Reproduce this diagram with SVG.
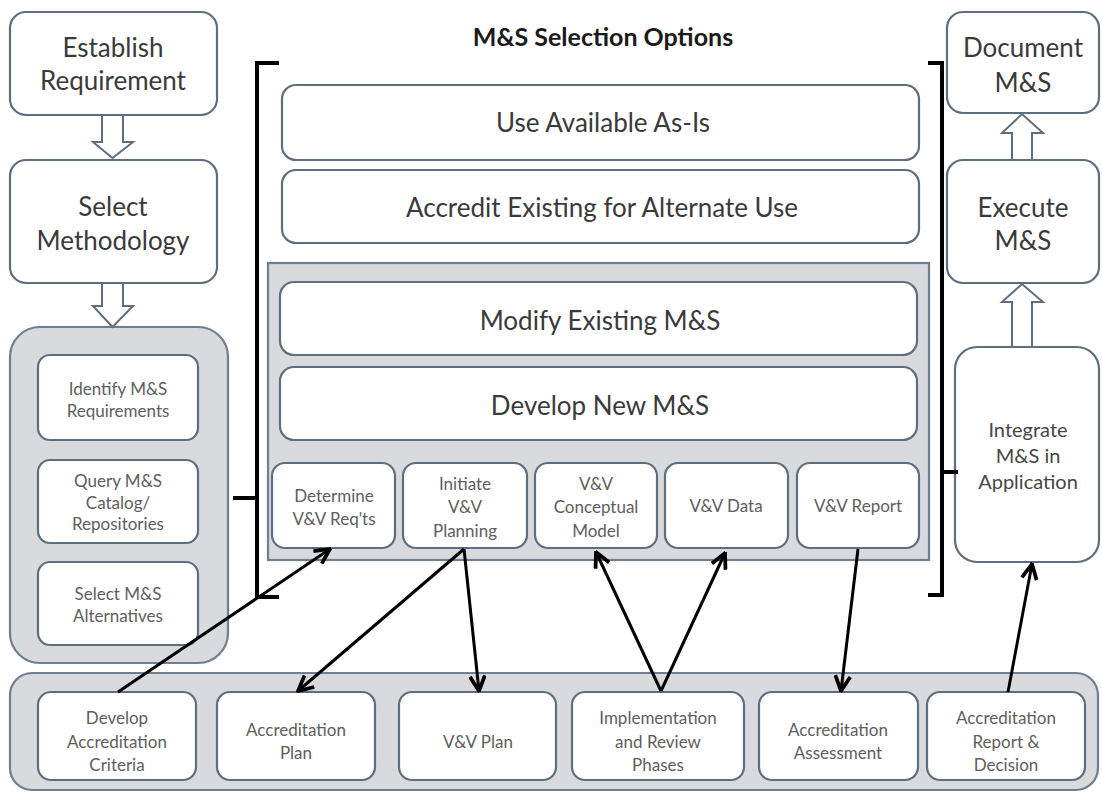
<svg xmlns="http://www.w3.org/2000/svg" width="1102" height="793" viewBox="0 0 1102 793">
<style>
.box{fill:#ffffff;stroke:#5f6e7e;stroke-width:2.2}
.grp{fill:#d9dadd;stroke:#6f7f90;stroke-width:2.2}
.big{font-family:"Lato","Open Sans",sans-serif;font-size:26px;fill:#3a3a3a;text-anchor:middle;dominant-baseline:central}
.mid{font-family:"Lato","Open Sans",sans-serif;font-size:20px;fill:#464646;text-anchor:middle;dominant-baseline:central}
.sm{font-family:"Lato","Open Sans",sans-serif;font-size:17px;fill:#5e5e5e;text-anchor:middle;dominant-baseline:central}
.title{font-family:"Lato","Open Sans",sans-serif;font-size:25px;font-weight:bold;fill:#1a1a1a;text-anchor:middle;dominant-baseline:central}
.hollow{fill:#ffffff;stroke:#5f6e7e;stroke-width:2}
.conn{stroke:#000;stroke-width:3;fill:none}
.brk{stroke:#000;stroke-width:4;fill:none}
</style>
<defs>
<marker id="ah" viewBox="0 0 12 12" refX="11" refY="6" markerWidth="6" markerHeight="6" markerUnits="strokeWidth" orient="auto">
<path d="M1,1 L11,6 L1,11" fill="none" stroke="#000" stroke-width="2.5"/>
</marker>
</defs>
<rect width="1102" height="793" fill="#ffffff"/>

<text class="title" x="603" y="36">M&amp;S Selection Options</text>

<g id="establish"><rect class="box" x="10" y="12" width="207" height="103" rx="16"/>
<text class="big" x="113" y="47">Establish</text><text class="big" x="113" y="80">Requirement</text></g>
<g id="select"><rect class="box" x="10" y="160" width="207" height="123" rx="16"/>
<text class="big" x="113" y="206">Select</text><text class="big" x="113" y="240">Methodology</text></g>

<g id="left-group"><rect class="grp" x="10" y="327" width="218" height="336" rx="30"/>
<g id="identify"><rect class="box" x="38" y="355" width="160" height="85" rx="12"/>
<text class="sm" x="118" y="388">Identify M&amp;S</text><text class="sm" x="118" y="410">Requirements</text></g>
<g id="query"><rect class="box" x="38" y="460" width="160" height="83" rx="12"/>
<text class="sm" x="118" y="480">Query M&amp;S</text><text class="sm" x="118" y="502">Catalog/</text><text class="sm" x="118" y="523">Repositories</text></g>
<g id="selectalt"><rect class="box" x="38" y="562" width="160" height="83" rx="12"/>
<text class="sm" x="118" y="593">Select M&amp;S</text><text class="sm" x="118" y="615">Alternatives</text></g>
</g>

<g id="use-available"><rect class="box" x="282" y="85" width="637" height="75" rx="14"/>
<text class="big" x="603" y="122">Use Available As-Is</text></g>
<g id="accredit-existing"><rect class="box" x="282" y="170" width="637" height="73" rx="14"/>
<text class="big" x="602" y="207">Accredit Existing for Alternate Use</text></g>

<g id="mid-group"><rect class="grp" x="268" y="263" width="661" height="297"/>
<g id="modify"><rect class="box" x="280" y="282" width="637" height="73" rx="14"/>
<text class="big" x="600" y="320">Modify Existing M&amp;S</text></g>
<g id="develop-new"><rect class="box" x="280" y="367" width="637" height="73" rx="14"/>
<text class="big" x="600" y="405">Develop New M&amp;S</text></g>
<g id="determine"><rect class="box" x="272" y="463" width="123" height="85" rx="13"/>
<text class="sm" x="334" y="495">Determine</text><text class="sm" x="334" y="518">V&amp;V Req'ts</text></g>
<g id="initiate"><rect class="box" x="403" y="463" width="124" height="85" rx="13"/>
<text class="sm" x="465" y="483">Initiate</text><text class="sm" x="465" y="506">V&amp;V</text><text class="sm" x="465" y="530">Planning</text></g>
<g id="conceptual"><rect class="box" x="535" y="463" width="122" height="85" rx="13"/>
<text class="sm" x="596" y="483">V&amp;V</text><text class="sm" x="596" y="506">Conceptual</text><text class="sm" x="596" y="530">Model</text></g>
<g id="vvdata"><rect class="box" x="665" y="463" width="123" height="85" rx="13"/>
<text class="sm" x="726" y="505">V&amp;V Data</text></g>
<g id="vvreport"><rect class="box" x="797" y="463" width="122" height="85" rx="13"/>
<text class="sm" x="858" y="505">V&amp;V Report</text></g>
</g>

<g id="document"><rect class="box" x="947" y="12" width="152" height="101" rx="16"/>
<text class="big" x="1023" y="47">Document</text><text class="big" x="1023" y="82">M&amp;S</text></g>
<g id="execute"><rect class="box" x="947" y="160" width="152" height="123" rx="16"/>
<text class="big" x="1023" y="207">Execute</text><text class="big" x="1023" y="240">M&amp;S</text></g>
<g id="integrate"><rect class="box" x="955" y="347" width="144" height="215" rx="22"/>
<text class="mid" x="1028" y="429">Integrate</text><text class="mid" x="1028" y="455">M&amp;S in</text><text class="mid" x="1028" y="481">Application</text></g>

<g id="bottom-group"><rect class="grp" x="10" y="673" width="1088" height="117" rx="22"/>
<g id="dev-criteria"><rect class="box" x="38" y="692" width="158" height="88" rx="13"/>
<text class="sm" x="117" y="717">Develop</text><text class="sm" x="117" y="741">Accreditation</text><text class="sm" x="117" y="764">Criteria</text></g>
<g id="acc-plan"><rect class="box" x="217" y="692" width="158" height="88" rx="13"/>
<text class="sm" x="296" y="729">Accreditation</text><text class="sm" x="296" y="752">Plan</text></g>
<g id="vv-plan"><rect class="box" x="399" y="692" width="157" height="88" rx="13"/>
<text class="sm" x="478" y="741">V&amp;V Plan</text></g>
<g id="implementation"><rect class="box" x="572" y="692" width="172" height="88" rx="13"/>
<text class="sm" x="658" y="717">Implementation</text><text class="sm" x="658" y="741">and Review</text><text class="sm" x="658" y="764">Phases</text></g>
<g id="acc-assess"><rect class="box" x="759" y="692" width="159" height="88" rx="13"/>
<text class="sm" x="838" y="729">Accreditation</text><text class="sm" x="838" y="752">Assessment</text></g>
<g id="acc-report"><rect class="box" x="927" y="692" width="158" height="88" rx="13"/>
<text class="sm" x="1006" y="717">Accreditation</text><text class="sm" x="1006" y="741">Report &amp;</text><text class="sm" x="1006" y="764">Decision</text></g>
</g>

<g id="connectors">
<path class="hollow" d="M102,115 V142 H93 L112.5,158 L133,142 H123 V115 Z"/>
<path class="hollow" d="M102,283 V306 H93 L112.5,327 L133,306 H123 V283 Z"/>
<path class="hollow" d="M1012,160 V133 H1002 L1022,114 L1043,133 H1032 V160 Z"/>
<path class="hollow" d="M1012,347 V302 H1002 L1022,284 L1043,302 H1032 V347 Z"/>
<path class="brk" d="M279,63 H257 V597 H279 M233,498 H257"/>
<path class="brk" d="M928,63 H942 V595 H928 M942,472 H958"/>
<line class="conn" x1="118" y1="692" x2="330" y2="549" marker-end="url(#ah)"/>
<line class="conn" x1="464" y1="549" x2="298" y2="691" marker-end="url(#ah)"/>
<line class="conn" x1="464" y1="549" x2="479" y2="691" marker-end="url(#ah)"/>
<line class="conn" x1="661" y1="691" x2="596" y2="552" marker-end="url(#ah)"/>
<line class="conn" x1="661" y1="691" x2="725" y2="553" marker-end="url(#ah)"/>
<line class="conn" x1="858" y1="549" x2="841" y2="691" marker-end="url(#ah)"/>
<line class="conn" x1="1008" y1="692" x2="1032" y2="564" marker-end="url(#ah)"/>
</g>
</svg>
